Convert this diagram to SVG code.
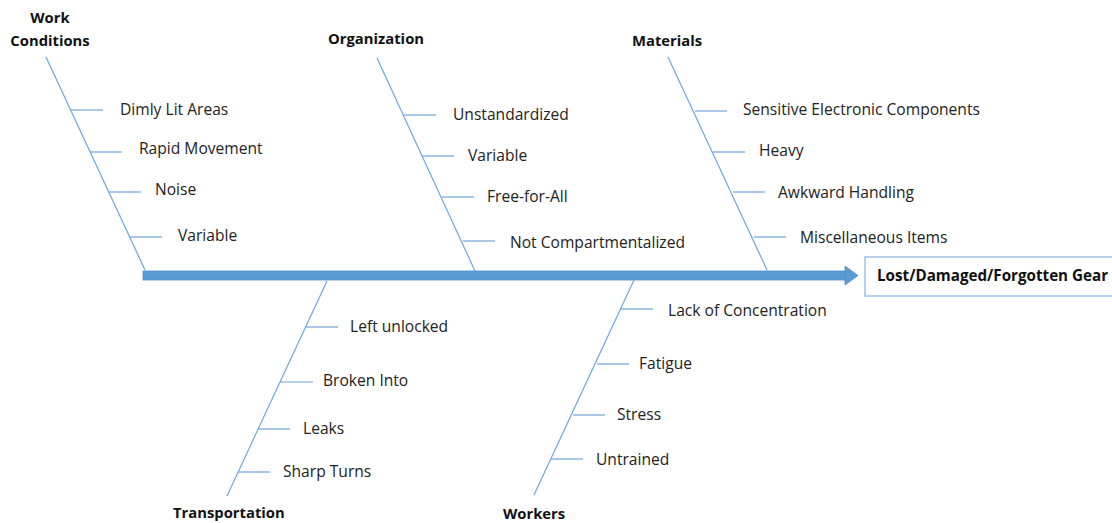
<svg xmlns="http://www.w3.org/2000/svg" width="1112" height="523" viewBox="0 0 1112 523">
  <style>
    .bone { stroke: #6fa4dc; stroke-width: 1.2; fill: none; }
    .rib { stroke: #6fa4dc; stroke-width: 1.2; }
    .lbl { font-family: "Open Sans", "Liberation Sans", sans-serif; font-size: 15.6px; fill: #222; }
    .ttl { font-family: "Open Sans", "Liberation Sans", sans-serif; font-size: 14.8px; font-weight: bold; fill: #111; }
    .eff { font-size: 15.2px; }
  </style>
  <rect width="1112" height="523" fill="#ffffff"/>

  <!-- spine and its arrowhead -->
  <g id="connectors">
    <rect x="143" y="271" width="704" height="9" fill="#5b9bd5" stroke="#4f8cc9" stroke-width="0.8"/>
    <polygon points="845,266 858,275.5 845,285" fill="#5b9bd5" stroke="#4f8cc9" stroke-width="0.8"/>
  </g>

  <!-- effect box -->
  <g id="effect">
    <rect x="865" y="257" width="260" height="39" fill="#fff" stroke="#9dc3e6" stroke-width="1.5"/>
    <text class="ttl eff" x="877" y="281">Lost/Damaged/Forgotten Gear</text>
  </g>

  <!-- upper bones -->
  <g id="work-conditions">
    <line class="bone" x1="46" y1="57" x2="145" y2="270"/>
    <text class="ttl" x="50" y="23" text-anchor="middle">Work</text>
    <text class="ttl" x="50" y="46" text-anchor="middle">Conditions</text>
    <line class="rib" x1="71" y1="110" x2="103" y2="110"/>
    <text class="lbl" x="120" y="115">Dimly Lit Areas</text>
    <line class="rib" x1="90" y1="152" x2="122" y2="152"/>
    <text class="lbl" x="139" y="154">Rapid Movement</text>
    <line class="rib" x1="109" y1="192" x2="141" y2="192"/>
    <text class="lbl" x="155" y="195">Noise</text>
    <line class="rib" x1="130" y1="237" x2="162" y2="237"/>
    <text class="lbl" x="178" y="241">Variable</text>
  </g>

  <g id="organization">
    <line class="bone" x1="377" y1="58" x2="475" y2="271"/>
    <text class="ttl" x="328" y="44">Organization</text>
    <line class="rib" x1="404" y1="115" x2="436" y2="115"/>
    <text class="lbl" x="453" y="120">Unstandardized</text>
    <line class="rib" x1="422" y1="156" x2="454" y2="156"/>
    <text class="lbl" x="468" y="161">Variable</text>
    <line class="rib" x1="442" y1="197" x2="474" y2="197"/>
    <text class="lbl" x="487" y="202">Free-for-All</text>
    <line class="rib" x1="463" y1="241" x2="495" y2="241"/>
    <text class="lbl" x="510" y="248">Not Compartmentalized</text>
  </g>

  <g id="materials">
    <line class="bone" x1="668" y1="57" x2="767" y2="270"/>
    <text class="ttl" x="632" y="46">Materials</text>
    <line class="rib" x1="695" y1="111" x2="727" y2="111"/>
    <text class="lbl" x="743" y="115">Sensitive Electronic Components</text>
    <line class="rib" x1="713" y1="152" x2="745" y2="152"/>
    <text class="lbl" x="759" y="156">Heavy</text>
    <line class="rib" x1="733" y1="192" x2="765" y2="192"/>
    <text class="lbl" x="778" y="198">Awkward Handling</text>
    <line class="rib" x1="754" y1="237" x2="786" y2="237"/>
    <text class="lbl" x="800" y="243">Miscellaneous Items</text>
  </g>

  <!-- lower bones -->
  <g id="transportation">
    <line class="bone" x1="327" y1="281" x2="227" y2="496"/>
    <text class="ttl" x="173" y="518">Transportation</text>
    <line class="rib" x1="306" y1="327" x2="338" y2="327"/>
    <text class="lbl" x="350" y="332">Left unlocked</text>
    <line class="rib" x1="280" y1="382" x2="313" y2="382"/>
    <text class="lbl" x="323" y="386">Broken Into</text>
    <line class="rib" x1="258" y1="429" x2="290" y2="429"/>
    <text class="lbl" x="303" y="434">Leaks</text>
    <line class="rib" x1="238" y1="472" x2="270" y2="472"/>
    <text class="lbl" x="283" y="477">Sharp Turns</text>
  </g>

  <g id="workers">
    <line class="bone" x1="634" y1="280" x2="534" y2="495"/>
    <text class="ttl" x="503" y="519">Workers</text>
    <line class="rib" x1="621" y1="309" x2="653" y2="309"/>
    <text class="lbl" x="668" y="316">Lack of Concentration</text>
    <line class="rib" x1="597" y1="364" x2="629" y2="364"/>
    <text class="lbl" x="639" y="369">Fatigue</text>
    <line class="rib" x1="573" y1="415" x2="605" y2="415"/>
    <text class="lbl" x="617" y="420">Stress</text>
    <line class="rib" x1="551" y1="459" x2="583" y2="459"/>
    <text class="lbl" x="596" y="465">Untrained</text>
  </g>
</svg>
